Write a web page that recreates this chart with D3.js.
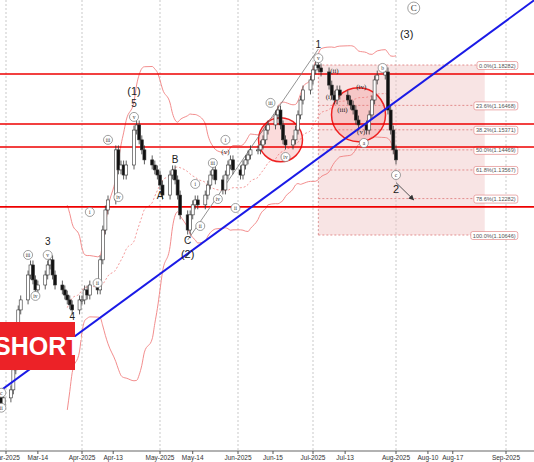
<!DOCTYPE html>
<html><head><meta charset="utf-8">
<script src="https://cdn.jsdelivr.net/npm/d3@7"></script>
<style>body{margin:0;background:#fff}svg{display:block;font-family:"Liberation Sans",Arial,sans-serif}</style>
</head><body><svg id="c" width="534" height="462"></svg>
<script>
const dates = ["2025-02-27","2025-02-28",
"2025-03-03","2025-03-04","2025-03-05","2025-03-06","2025-03-07","2025-03-10","2025-03-11","2025-03-12","2025-03-13","2025-03-14",
"2025-03-17","2025-03-18","2025-03-19","2025-03-20","2025-03-21","2025-03-24","2025-03-25","2025-03-26","2025-03-27","2025-03-28","2025-03-31",
"2025-04-01","2025-04-02","2025-04-03","2025-04-04","2025-04-07","2025-04-08","2025-04-09","2025-04-10","2025-04-11",
"2025-04-14","2025-04-15","2025-04-16","2025-04-17","2025-04-18","2025-04-21","2025-04-22","2025-04-23","2025-04-24","2025-04-25","2025-04-28","2025-04-29","2025-04-30",
"2025-05-01","2025-05-02","2025-05-05","2025-05-06","2025-05-07","2025-05-08","2025-05-09","2025-05-12","2025-05-13","2025-05-14","2025-05-15","2025-05-16",
"2025-05-19","2025-05-20","2025-05-21","2025-05-22","2025-05-23","2025-05-26","2025-05-27","2025-05-28","2025-05-29","2025-05-30",
"2025-06-02","2025-06-03","2025-06-04","2025-06-05","2025-06-06","2025-06-09","2025-06-10","2025-06-11","2025-06-12","2025-06-13",
"2025-06-16","2025-06-17","2025-06-18","2025-06-19","2025-06-20","2025-06-23","2025-06-24","2025-06-25","2025-06-26","2025-06-27","2025-06-30",
"2025-07-01","2025-07-02","2025-07-03","2025-07-04","2025-07-07","2025-07-08","2025-07-09","2025-07-10","2025-07-11",
"2025-07-14","2025-07-15","2025-07-16","2025-07-17","2025-07-18","2025-07-21","2025-07-22","2025-07-23","2025-07-24","2025-07-25",
"2025-07-28","2025-07-29","2025-07-30","2025-07-31","2025-08-01"];
const closes = [1.0301,1.0333,
1.0369,1.0459,1.0593,1.0728,1.0773,1.0885,1.0930,1.0863,1.0818,1.0840,
1.0885,1.0930,1.0953,1.0885,1.0840,1.0818,1.0795,1.0773,1.0751,1.0728,1.0773,
1.0773,1.0818,1.0795,1.0840,1.0818,1.0953,1.1087,1.1177,1.1222,
1.1447,1.1357,1.1379,1.1334,1.1379,1.1536,1.1559,1.1492,1.1447,1.1402,1.1379,1.1357,1.1334,
1.1289,1.1244,1.1334,1.1357,1.1312,1.1244,1.1155,1.1087,1.1155,1.1200,1.1222,1.1200,
1.1244,1.1289,1.1334,1.1357,1.1312,1.1267,1.1334,1.1379,1.1402,1.1357,
1.1334,1.1379,1.1402,1.1424,1.1447,1.1447,1.1469,1.1492,1.1536,1.1559,
1.1604,1.1626,1.1559,1.1492,1.1469,1.1492,1.1536,1.1604,1.1671,1.1716,1.1761,
1.1806,1.1828,1.1815,1.1797,1.1738,1.1693,1.1671,1.1716,1.1693,
1.1671,1.1648,1.1626,1.1581,1.1559,1.1536,1.1604,1.1671,1.1761,1.1783,
1.1797,1.1626,1.1536,1.1447,1.1402];
const opens = [1.0340].concat(closes.slice(0,-1));
const hLines = [1.1788,1.1563,1.1460,1.1191];
const fibPct = ["0.0%","23.6%","38.2%","50.0%","61.8%","78.6%","100.0%"];
const fibVal = [1.18282,1.16468,1.15371,1.14469,1.13567,1.12282,1.10646];
const fibSpan = ["2025-07-03","2025-08-26"];
const trend = [["2025-02-26",1.0361],["2025-09-09",1.2120]];
const waveLine = [["2025-05-12",1.1042],["2025-07-03",1.1900]];
const arrowPts = [["2025-08-01",1.1300],["2025-08-06",1.1222]];
const zones = [["2025-06-18",1.1492,22],["2025-07-18",1.1605,27]];
const labels = [
["c","2025-02-27",1.0356,"c"],["ii","2025-02-27",1.0289,"c"],
["iii","2025-03-10",1.0975,"c"],["iv","2025-03-13",1.0791,"c"],["3","2025-03-18",1.1035,"t"],["v","2025-03-18",1.0975,"c"],["4","2025-03-28",1.0700,"t"],
["i","2025-04-04",1.1168,"c"],["ii","2025-04-07",1.0849,"c"],["iii","2025-04-11",1.1492,"c"],["iv","2025-04-15",1.1235,"c"],
["(1)","2025-04-21",1.1710,"t2"],["5","2025-04-21",1.1655,"t"],["v","2025-04-21",1.1595,"c"],
["A","2025-05-01",1.1244,"t"],["B","2025-05-07",1.1402,"t"],["C","2025-05-12",1.1042,"t"],["(2)","2025-05-12",1.0975,"t2"],
["i","2025-05-15",1.1294,"c"],["ii","2025-05-17",1.1105,"c"],["iii","2025-05-22",1.1388,"c"],["iv","2025-05-24",1.1226,"c"],
["i","2025-05-27",1.1492,"c"],["(v)","2025-05-27",1.1442,"t"],["ii","2025-05-31",1.1186,"c"],["iii","2025-06-14",1.1658,"c"],["iv","2025-06-20",1.1415,"c"],
["1","2025-07-03",1.1920,"t"],["v","2025-07-03",1.1859,"c"],
["(ii)","2025-07-09",1.1806,"t"],["(i)","2025-07-07",1.1693,"t"],["(iii)","2025-07-12",1.1635,"t"],["(iv)","2025-07-19",1.1738,"t"],
["(v)","2025-07-19",1.1536,"t"],["a","2025-07-20",1.1478,"c"],["b","2025-07-27",1.1815,"c"],
["c","2025-08-01",1.1334,"c"],["2","2025-08-01",1.1270,"t2"],["(3)","2025-08-04",1.1963,"t2"],["C","2025-08-06",1.2084,"c2"]];
const tickDates = ["2025-03-01","2025-03-14","2025-04-01","2025-04-13","2025-05-01","2025-05-14","2025-06-01","2025-06-15","2025-07-01","2025-07-13","2025-08-01","2025-08-10","2025-08-17","2025-09-01"];
const tickText = ["Mar-2025","Mar-14","Apr-2025","Apr-13","May-2025","May-14","Jun-2025","Jun-15","Jul-2025","Jul-13","Aug-2025","Aug-10","Aug-17","Sep-2025"];

const P = d3.timeParse("%Y-%m-%d");
const svg = d3.select("#c");
const x = d3.scaleTime()
  .domain(["2025-02-26","2025-03-01","2025-04-01","2025-05-01","2025-06-01","2025-07-01","2025-08-01","2025-09-01","2025-09-10"].map(P))
  .range([-1,6,82,160,238,313,396,506,538]);
const y = d3.scaleLinear().domain([1.10646,1.18282]).range([235,65]);
const axisY = 451;

svg.append("g").selectAll("line").data(tickDates.filter((d,i)=>tickText[i].includes("2025")))
 .join("line").attr("x1",d=>x(P(d))).attr("x2",d=>x(P(d))).attr("y1",0).attr("y2",axisY)
 .attr("stroke","#bbb").attr("stroke-dasharray","2,2").attr("stroke-width",0.8);

const fx0=x(P(fibSpan[0])), fx1=x(P(fibSpan[1]));
svg.append("rect").attr("x",fx0).attr("y",y(fibVal[0])).attr("width",fx1-fx0).attr("height",y(fibVal[6])-y(fibVal[0]))
 .attr("fill","#f0c4c4").attr("opacity",0.45);
svg.append("line").attr("x1",fx0).attr("x2",fx0).attr("y1",y(fibVal[0])).attr("y2",y(fibVal[6])).attr("stroke","#d99").attr("stroke-dasharray","2,2");
fibVal.forEach((v,i)=>{
  svg.append("line").attr("x1",fx0).attr("x2",fx1+30).attr("y1",y(v)).attr("y2",y(v)).attr("stroke","#d77").attr("stroke-dasharray","2,2").attr("stroke-width",0.8);
  const t = fibPct[i]+"("+v.toFixed(5)+")";
  const g=svg.append("g");
  const tx=g.append("text").attr("x",fx1+31).attr("y",y(v)+2.5).attr("text-anchor","end").attr("font-size",5.6).attr("fill","#555").text(t);
  const bb=tx.node().getBBox();
  g.insert("rect","text").attr("x",bb.x-2).attr("y",bb.y-1).attr("width",bb.width+4).attr("height",bb.height+2).attr("rx",2).attr("fill","#fff").attr("stroke","#d77").attr("stroke-width",0.6);
});

const N=20, bb=[];
closes.forEach((c,i)=>{ if(i>=N-1){const s=closes.slice(i-N+1,i+1);const m=d3.mean(s),sd=d3.deviation(s);bb.push({d:P(dates[i]),m,u:m+2.2*sd,l:m-2.2*sd});}});
const ln=k=>d3.line().x(d=>x(d.d)).y(d=>y(d[k])).curve(d3.curveMonotoneX)(bb);
svg.append("path").attr("d",ln("u")).attr("fill","none").attr("stroke","#f08080").attr("stroke-width",0.9);
svg.append("path").attr("d",ln("l")).attr("fill","none").attr("stroke","#f08080").attr("stroke-width",0.9);
svg.append("path").attr("d",ln("m")).attr("fill","none").attr("stroke","#f08080").attr("stroke-width",0.8).attr("stroke-dasharray","2,2");

zones.forEach(z=>svg.append("circle").attr("cx",x(P(z[0]))).attr("cy",y(z[1])).attr("r",z[2]).attr("fill","rgba(240,110,110,0.25)").attr("stroke","#e22").attr("stroke-width",1.5));

hLines.forEach(v=>svg.append("line").attr("x1",0).attr("x2",534).attr("y1",y(v)).attr("y2",y(v)).attr("stroke","#e00").attr("stroke-width",1.6));

svg.append("line").attr("x1",x(P(waveLine[0][0]))).attr("y1",y(waveLine[0][1])).attr("x2",x(P(waveLine[1][0]))).attr("y2",y(waveLine[1][1])).attr("stroke","#777").attr("stroke-width",0.8);

const wick=0.002;
const cg=svg.append("g");
closes.forEach((c,i)=>{
  const o=opens[i], xx=x(P(dates[i])), up=c>=o;
  cg.append("line").attr("x1",xx).attr("x2",xx).attr("y1",y(Math.max(o,c)+wick)).attr("y2",y(Math.min(o,c)-wick)).attr("stroke","#333").attr("stroke-width",0.8);
  const top=y(Math.max(o,c)), h=Math.max(1,Math.abs(y(o)-y(c)));
  cg.append("rect").attr("x",xx-1.5).attr("y",top).attr("width",3).attr("height",h).attr("fill",up?"#fff":"#111").attr("stroke","#333").attr("stroke-width",0.6);
});

svg.append("line").attr("x1",x(P(trend[0][0]))).attr("y1",y(trend[0][1])).attr("x2",x(P(trend[1][0]))).attr("y2",y(trend[1][1])).attr("stroke","#1a1ae6").attr("stroke-width",2);

svg.append("defs").append("marker").attr("id","ar").attr("viewBox","0 0 10 10").attr("refX",9).attr("refY",5).attr("markerWidth",6).attr("markerHeight",6).attr("orient","auto")
 .append("path").attr("d","M0,0L10,5L0,10z").attr("fill","#333");
svg.append("line").attr("x1",x(P(arrowPts[0][0]))).attr("y1",y(arrowPts[0][1])).attr("x2",x(P(arrowPts[1][0]))).attr("y2",y(arrowPts[1][1])).attr("stroke","#444").attr("stroke-width",0.9).attr("marker-end","url(#ar)");

labels.forEach(([t,d,p,k])=>{
  const xx=x(P(d)), yy=y(p);
  if(k==="c"||k==="c2"){
    const r=k==="c2"?6:4.5;
    svg.append("circle").attr("cx",xx).attr("cy",yy).attr("r",r).attr("fill","#fff").attr("stroke","#777").attr("stroke-width",0.7);
    svg.append("text").attr("x",xx).attr("y",yy+(k==="c2"?3:2)).attr("text-anchor","middle").attr("font-size",k==="c2"?9:5.5).attr("font-family","Liberation Serif").attr("fill","#333").text(t);
  } else {
    svg.append("text").attr("x",xx).attr("y",yy+3.5).attr("text-anchor","middle").attr("font-size",k==="t2"?11:(t.length>2?7:10)).attr("fill","#222")
      .attr("font-family",t.length>2&&k!=="t2"?"Liberation Serif":"Liberation Sans").text(t);
  }
});

svg.append("rect").attr("x",-10).attr("y",322).attr("width",85).attr("height",48).attr("fill","#ec2227");
svg.append("text").attr("x",-6).attr("y",355).attr("font-size",25).attr("font-weight","bold").attr("fill","#fff").attr("font-family","Liberation Sans").text("SHORT");

svg.append("line").attr("x1",0).attr("x2",534).attr("y1",axisY).attr("y2",axisY).attr("stroke","#999").attr("stroke-width",1.5);
svg.append("rect").attr("x",0).attr("y",axisY+1).attr("width",534).attr("height",10).attr("fill","#fff");
tickDates.forEach((d,i)=>{
  const xx=x(P(d));
  svg.append("line").attr("x1",xx).attr("x2",xx).attr("y1",axisY).attr("y2",axisY+3).attr("stroke","#555");
  svg.append("text").attr("x",xx).attr("y",axisY+9).attr("text-anchor","middle").attr("font-size",6.5).attr("fill","#333").text(tickText[i]);
});
</script></body></html>
